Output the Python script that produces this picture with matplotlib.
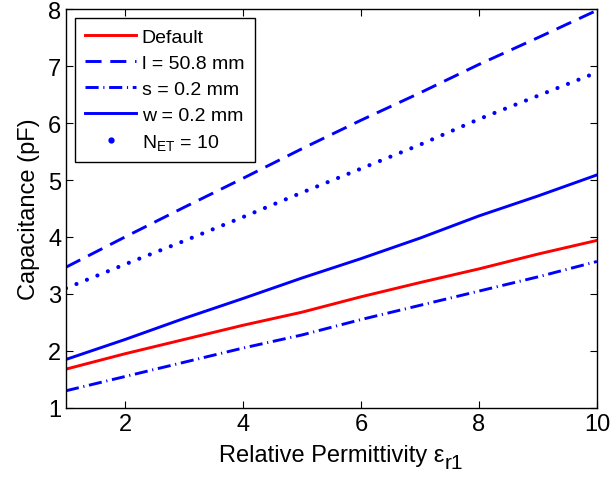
import matplotlib
matplotlib.use('Agg')
import matplotlib.pyplot as plt
from matplotlib.lines import Line2D

# valores (capacitância em pF)
permissividade = [1, 2, 3, 4, 5, 6, 7, 8, 9, 10]
padrao = [1.68, 1.95, 2.20, 2.45, 2.68, 2.95, 3.20, 3.44, 3.70, 3.94]
comprimento_l = [3.47, 4.00, 4.52, 5.03, 5.55, 6.05, 6.53, 7.03, 7.50, 7.98]
espacamento_s = [1.30, 1.55, 1.80, 2.05, 2.28, 2.55, 2.80, 3.05, 3.30, 3.57]
largura_w = [1.85, 2.20, 2.57, 2.92, 3.28, 3.62, 3.98, 4.37, 4.72, 5.09]
n_et = [3.10, 3.52, 3.93, 4.35, 4.78, 5.20, 5.62, 6.07, 6.48, 6.89]

rotulos = ['Default', 'l = 50.8 mm', 's = 0.2 mm', 'w = 0.2 mm', 'N$_{\\mathrm{ET}}$ = 10']

plt.rcParams['font.family'] = ['Liberation Sans', 'DejaVu Sans']
plt.rcParams['mathtext.fontset'] = 'custom'
plt.rcParams['mathtext.rm'] = 'Liberation Sans'
plt.rcParams['mathtext.it'] = 'Liberation Sans'

fig = plt.figure(figsize=(6.11, 4.85), dpi=100)
ax = fig.add_axes([0.108, 0.157, 0.869, 0.822])

lw = 2.1
ax.plot(permissividade, padrao, color='#ff0000', lw=lw)
ax.plot(permissividade, comprimento_l, color='#0000ff', lw=lw, dashes=(5.5, 3))
ax.plot(permissividade, espacamento_s, color='#0000ff', lw=lw, dashes=(4.5, 1.6, 0.4, 1.6))
ax.plot(permissividade, largura_w, color='#0000ff', lw=lw)
ax.plot(permissividade, n_et, color='#0000ff', lw=3.0, dashes=(0.01, 2.7),
        dash_capstyle='round')

ax.set_xlim(1, 10)
ax.set_ylim(1, 8)
ax.set_xticks([2, 4, 6, 8, 10])
ax.set_yticks(range(1, 9))
ax.tick_params(direction='in', top=True, right=True, length=5, labelsize=17, width=0.8)
for s in ax.spines.values():
    s.set_linewidth(1.0)

rotulo_x = ax.set_xlabel('Relative Permittivity ε', fontsize=17, labelpad=7)
ax.annotate('r1', xy=(1, 0), xycoords=rotulo_x, xytext=(0.5, -4),
            textcoords='offset points', fontsize=15, ha='left', va='bottom')
ax.set_ylabel('Capacitance (pF)', fontsize=17, labelpad=6)

handles = [
    Line2D([], [], color='#ff0000', lw=lw),
    Line2D([], [], color='#0000ff', lw=lw, dashes=(5.5, 3)),
    Line2D([], [], color='#0000ff', lw=lw, dashes=(4.5, 1.6, 0.4, 1.6)),
    Line2D([], [], color='#0000ff', lw=lw),
    Line2D([], [], color='#0000ff', ls='none', marker='o', markersize=3.5),
]
leg = ax.legend(handles, rotulos, loc='upper left', fontsize=14, frameon=True,
                fancybox=False, edgecolor='black', framealpha=1,
                handlelength=2.6, handletextpad=0.3, borderpad=0.55,
                labelspacing=0.42, borderaxespad=0.45)
leg.get_frame().set_linewidth(1.0)

fig.savefig('out.png', dpi=100)
